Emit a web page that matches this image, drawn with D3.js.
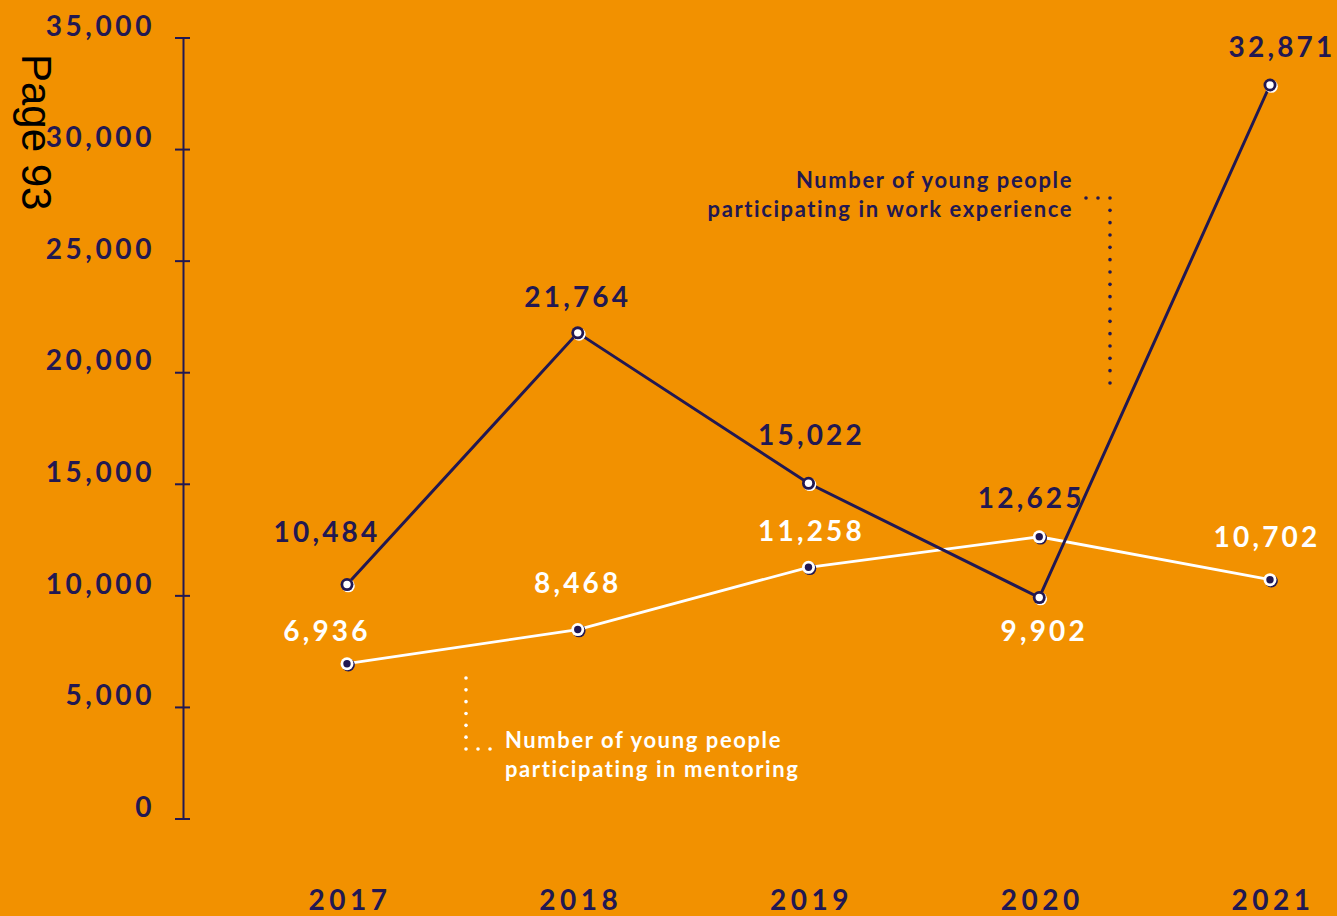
<!DOCTYPE html>
<html>
<head>
<meta charset="utf-8">
<script src="https://cdn.jsdelivr.net/npm/d3@7"></script>
<style>
  html, body { margin: 0; padding: 0; background: #F29100; }
  svg { display: block; }
</style>
</head>
<body>
<svg id="chart" width="1337" height="916"></svg>
<script>
// Participation figures by year
const years = ["2017", "2018", "2019", "2020", "2021"];
const workExperience = [10484, 21764, 15022, 9902, 32871];
const mentoring = [6936, 8468, 11258, 12625, 10702];
const yTicks = [0, 5000, 10000, 15000, 20000, 25000, 30000, 35000];
const workLabel = ["Number of young people", "participating in work experience"];
const mentoringLabel = ["Number of young people", "participating in mentoring"];

// Label placement (dx, dy from the point) and colour per value label
const workLabelPlacement = [[-20, -50], [0, -33], [3, -45], [5, 36], [12, -35]];
const mentoringLabelPlacement = [[-20, -30], [0, -44], [3, -33], [-8, -36], [-3, -40]];
const workLabelColour = ["navy", "navy", "navy", "white", "navy"];
const mentoringLabelColour = ["white", "white", "white", "navy", "white"];

const NAVY = "#221852";
const WHITE = "#ffffff";
const colour = c => c === "navy" ? NAVY : WHITE;
const numFmt = d3.format(",");
const FONT = "Lato, sans-serif";

const svg = d3.select("#chart");

const x = d3.scalePoint().domain(years).range([347, 1270]);
const y = d3.scaleLinear().domain([0, 35000]).range([818.5, 37.5]);

// Y axis with ticks crossing the axis line
const axisX = 183;
const yAxis = svg.append("g")
  .attr("transform", `translate(${axisX},0)`)
  .call(d3.axisLeft(y).tickValues(yTicks).tickSizeOuter(0).tickFormat(numFmt));
yAxis.select(".domain").attr("stroke", NAVY).attr("stroke-width", 2);
yAxis.selectAll(".tick line").attr("x1", -8).attr("x2", 7)
  .attr("stroke", NAVY).attr("stroke-width", 2);
yAxis.selectAll(".tick text")
  .attr("x", -28).attr("dy", "-0.08em")
  .attr("fill", NAVY)
  .style("font-family", FONT)
  .style("font-weight", 700)
  .style("font-size", "28px")
  .style("letter-spacing", "3.6px");

// Year labels along the bottom
svg.append("g").selectAll("text")
  .data(years).join("text")
  .attr("x", d => x(d) + 3)
  .attr("y", 910)
  .attr("text-anchor", "middle")
  .attr("fill", NAVY)
  .style("font-family", FONT)
  .style("font-weight", 700)
  .style("font-size", "28px")
  .style("letter-spacing", "4.5px")
  .text(d => d);

const line = d3.line().x(d => x(d.year)).y(d => y(d.value));
const toPoints = vals => years.map((yr, i) => ({ year: yr, value: vals[i], i }));
const workPts = toPoints(workExperience);
const mentPts = toPoints(mentoring);

// Series lines
svg.append("path").datum(mentPts).attr("d", line)
  .attr("fill", "none").attr("stroke", WHITE).attr("stroke-width", 2.8);
svg.append("path").datum(workPts).attr("d", line)
  .attr("fill", "none").attr("stroke", NAVY).attr("stroke-width", 3);

// Point markers: ring with a contrasting centre
function markers(pts, ring, centre) {
  const g = svg.append("g");
  g.selectAll("circle.shadow").data(pts).join("circle")
    .attr("cx", d => x(d.year) + 1.3).attr("cy", d => y(d.value) + 1.3)
    .attr("r", 6.5).attr("fill", centre);
  g.selectAll("circle.ring").data(pts).join("circle")
    .attr("cx", d => x(d.year)).attr("cy", d => y(d.value))
    .attr("r", 6.5).attr("fill", ring);
  g.selectAll("circle.core").data(pts).join("circle")
    .attr("cx", d => x(d.year)).attr("cy", d => y(d.value))
    .attr("r", 3.7).attr("fill", centre);
}
markers(mentPts, WHITE, NAVY);
markers(workPts, NAVY, WHITE);

// Value labels
function valueLabels(pts, placement, colours) {
  svg.append("g").selectAll("text").data(pts).join("text")
    .attr("x", d => x(d.year) + placement[d.i][0])
    .attr("y", d => y(d.value) + placement[d.i][1])
    .attr("text-anchor", "middle")
    .attr("dominant-baseline", "middle")
    .attr("fill", d => colour(colours[d.i]))
    .style("font-family", FONT)
    .style("font-weight", 700)
    .style("font-size", "28px")
    .style("letter-spacing", "3.2px")
    .text(d => numFmt(d.value));
}
valueLabels(workPts, workLabelPlacement, workLabelColour);
valueLabels(mentPts, mentoringLabelPlacement, mentoringLabelColour);

// Dotted leader lines
function dots(g, x1, y1, x2, y2, step, fill) {
  const len = Math.hypot(x2 - x1, y2 - y1);
  const n = Math.round(len / step);
  for (let k = 0; k <= n; k++) {
    g.append("circle")
      .attr("cx", x1 + (x2 - x1) * k / n)
      .attr("cy", y1 + (y2 - y1) * k / n)
      .attr("r", 1.8).attr("fill", fill);
  }
}

// Work experience annotation
const workNote = svg.append("g");
workNote.selectAll("text").data(workLabel).join("text")
  .attr("x", 1073).attr("y", (d, i) => 188 + i * 29)
  .attr("text-anchor", "end").attr("fill", NAVY)
  .style("font-family", FONT)
  .style("font-weight", 700)
  .style("font-size", "22px")
  .style("letter-spacing", "1.6px")
  .text(d => d);
dots(workNote, 1086, 198, 1098, 198, 12, NAVY);
dots(workNote, 1110, 198, 1110, 383, 12.4, NAVY);

// Mentoring annotation
const mentNote = svg.append("g");
mentNote.selectAll("text").data(mentoringLabel).join("text")
  .attr("x", 505).attr("y", (d, i) => 748 + i * 29)
  .attr("fill", WHITE)
  .style("font-family", FONT)
  .style("font-weight", 700)
  .style("font-size", "22px")
  .style("letter-spacing", "1.6px")
  .text(d => d);
dots(mentNote, 466, 678, 466, 749, 11.8, WHITE);
dots(mentNote, 478, 749, 490, 749, 12, WHITE);

// Page marker
svg.append("text")
  .attr("transform", "translate(22,54) rotate(90)")
  .attr("fill", "#000")
  .style("font-family", "'Liberation Sans', Arial, sans-serif")
  .style("font-size", "42px")
  .text("Page 93");
</script>
</body>
</html>
